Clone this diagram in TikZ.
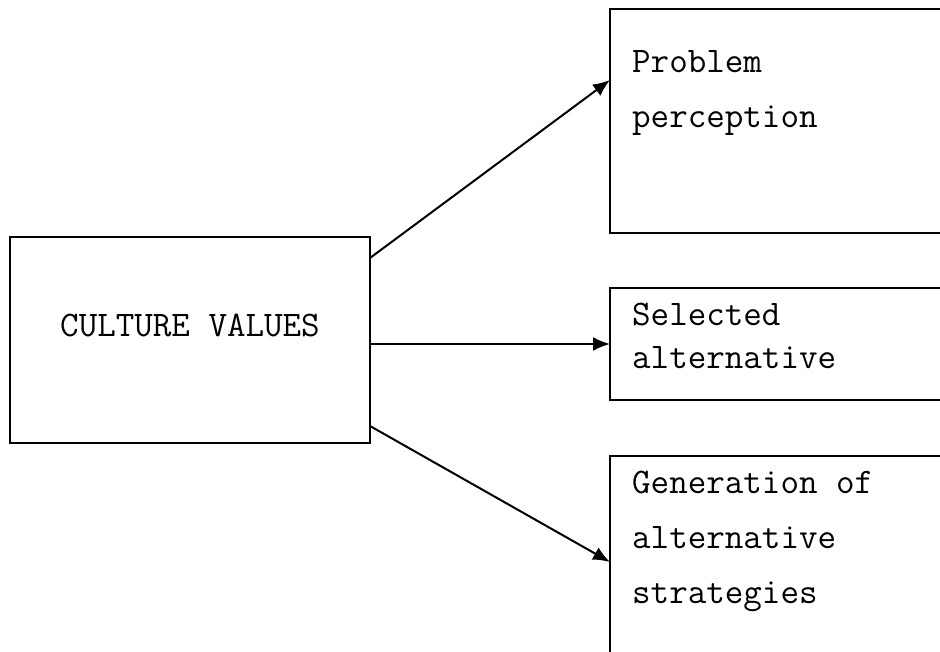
\documentclass[tikz,border=0pt]{standalone}
\usetikzlibrary{arrows.meta,positioning}
\tikzset{>={Latex[length=17pt,width=14pt]}}
\tikzset{box/.style={draw,line width=2pt,inner sep=0pt,outer sep=0pt},
  boxtext/.style={inner sep=0pt,align=left,anchor=base west,font=\ttfamily\fontsize{36}{55}\selectfont}}
\begin{document}
\begin{tikzpicture}[x=1pt,y=-1pt]
\useasboundingbox (0,0) rectangle (940,652);
\clip (0,0) rectangle (940,652);
\node[box,minimum width=360pt,minimum height=206pt] (cv) at (190,340) {};
\node[box,minimum width=350pt,minimum height=224pt] (pp) at (785,121) {};
\node[box,minimum width=350pt,minimum height=112pt] (sa) at (785,344) {};
\node[box,minimum width=350pt,minimum height=214pt] (ga) at (785,563) {};
\node[boxtext,anchor=base] (cvt) at (190,337) {CULTURE VALUES};
\node[boxtext] (ppt) at (632,128) {Problem\\perception};
\node[boxtext,font=\ttfamily\fontsize{36}{43}\selectfont] (sat) at (632,368) {Selected\\alternative};
\node[boxtext] (gat) at (632,603) {Generation of\\alternative\\strategies};
\draw[->,line width=2pt] ([yshift=-21pt]cv.north east) -- ([yshift=-71pt]pp.north west);
\draw[->,line width=2pt] (cv.east |- sa.west) -- (sa.west);
\draw[->,line width=2pt] ([yshift=17pt]cv.south east) -- ([yshift=-106pt]ga.north west);
\end{tikzpicture}
\end{document}
